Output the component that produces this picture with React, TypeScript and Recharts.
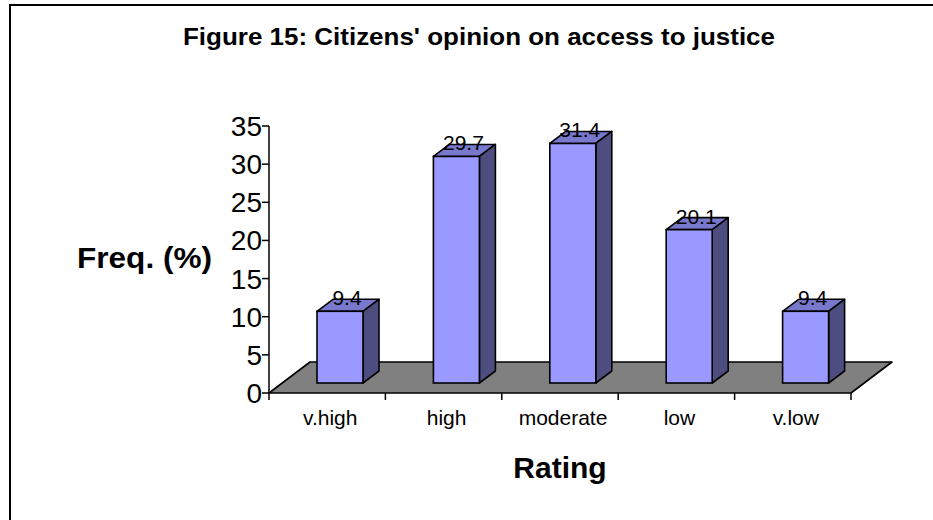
import React from 'react';
import { BarChart, Bar, XAxis, YAxis, LabelList, Customized } from 'recharts';

// Survey results: share of citizens per rating
const categories = ['v.high', 'high', 'moderate', 'low', 'v.low'];
const freqPct = [9.4, 29.7, 31.4, 20.1, 9.4];
const yTicks = [0, 5, 10, 15, 20, 25, 30, 35];

const data = categories.map((rating, i) => ({ rating, freq: freqPct[i] }));

const FONT = '"Liberation Sans", Arial, Helvetica, sans-serif';

const W = 933;
const H = 520;
const MARGIN = { top: 126, right: 82, bottom: 97, left: 189 };
const Y_AXIS_W = 80;
const X_AXIS_H = 30;
const PLOT_L = MARGIN.left + Y_AXIS_W;
const PLOT_R = W - MARGIN.right;
const PLOT_B = H - MARGIN.bottom - X_AXIS_H;
const BAND = (PLOT_R - PLOT_L) / categories.length;

// pseudo-3D geometry: floor depth, bar placement inside it, bar depth
const FLOOR_DX = 41;
const FLOOR_DY = -31;
const BAR_SHIFT_X = 13;
const BAR_SHIFT_Y = -10;
const BAR_DX = 16;
const BAR_DY = -12;

const FRONT = '#9999FF';
const SIDE = '#4D4D80';
const TOP = '#7878CC';

const pts = (arr: number[][]) => arr.map((p) => p.join(',')).join(' ');

const Bar3D = (props: any) => {
  const { x, y, width, height } = props;
  const fx = x + BAR_SHIFT_X;
  const fy = y + BAR_SHIFT_Y;
  const top = [
    [fx, fy],
    [fx + BAR_DX, fy + BAR_DY],
    [fx + width + BAR_DX, fy + BAR_DY],
    [fx + width, fy],
  ];
  const side = [
    [fx + width, fy],
    [fx + width + BAR_DX, fy + BAR_DY],
    [fx + width + BAR_DX, fy + height + BAR_DY],
    [fx + width, fy + height],
  ];
  return (
    <g>
      <polygon points={pts(top)} fill={TOP} stroke="#000" strokeWidth={1.6} strokeLinejoin="round" />
      <polygon points={pts(side)} fill={SIDE} stroke="#000" strokeWidth={1.6} strokeLinejoin="round" />
      <rect x={fx} y={fy} width={width} height={height} fill={FRONT} stroke="#000" strokeWidth={1.6} />
    </g>
  );
};

const Floor = () => (
  <g>
    <rect x={10} y={5} width={2000} height={2000} fill="none" stroke="#000" strokeWidth={2} />
    <polygon
      points={pts([
        [PLOT_L, PLOT_B],
        [PLOT_R, PLOT_B],
        [PLOT_R + FLOOR_DX, PLOT_B + FLOOR_DY],
        [PLOT_L + FLOOR_DX, PLOT_B + FLOOR_DY],
      ])}
      fill="#808080"
      stroke="#000"
      strokeWidth={1.6}
      strokeLinejoin="round"
    />
  </g>
);

const Titles = () => (
  <g fontFamily={FONT} fill="#000">
    <text x={183} y={45} fontSize={24} fontWeight="bold" textLength={592} lengthAdjust="spacingAndGlyphs">
      Figure 15: Citizens' opinion on access to justice
    </text>
    <text x={77} y={268} fontSize={29} fontWeight="bold" textLength={135} lengthAdjust="spacingAndGlyphs">
      Freq. (%)
    </text>
    <text x={560} y={478} fontSize={30} fontWeight="bold" textAnchor="middle">
      Rating
    </text>
  </g>
);

const CategoryTick = (props: any) => {
  const { x, payload, index } = props;
  const left = x - BAND / 2;
  return (
    <g>
      <line x1={left} y1={PLOT_B} x2={left} y2={PLOT_B + 7} stroke="#000" strokeWidth={1.5} />
      {index === categories.length - 1 && (
        <line x1={x + BAND / 2} y1={PLOT_B} x2={x + BAND / 2} y2={PLOT_B + 7} stroke="#000" strokeWidth={1.5} />
      )}
      <text x={x + 3} y={PLOT_B + 32} textAnchor="middle" fontSize={21} fontFamily={FONT} fill="#000">
        {payload.value}
      </text>
    </g>
  );
};

const ValueLabel = (props: any) => {
  const { x, y, width, value } = props;
  return (
    <text x={x + width / 2 + 20} y={y - 16} textAnchor="middle" fontSize={21} fontFamily={FONT} fill="#000">
      {value}
    </text>
  );
};

export default function App() {
  return (
    <div style={{ position: 'absolute', left: 0, top: 0, width: W, height: H, background: '#fff' }}>
      <BarChart width={W} height={H} data={data} margin={MARGIN} barSize={46}>
        <Customized component={Floor} />
        <XAxis
          dataKey="rating"
          height={X_AXIS_H}
          axisLine={false}
          tickLine={false}
          tickSize={0}
          tickMargin={0}
          interval={0}
          tick={<CategoryTick />}
        />
        <YAxis
          width={Y_AXIS_W}
          domain={[0, 35]}
          ticks={yTicks}
          interval={0}
          axisLine={{ stroke: '#000', strokeWidth: 1.5 }}
          tickLine={{ stroke: '#000', strokeWidth: 1.5 }}
          tickSize={7}
          tickMargin={0}
          tick={{ fill: '#000', fontSize: 28, fontFamily: FONT }}
        />
        <Bar dataKey="freq" shape={<Bar3D />} isAnimationActive={false}>
          <LabelList dataKey="freq" content={<ValueLabel />} />
        </Bar>
        <Customized component={Titles} />
      </BarChart>
    </div>
  );
}
